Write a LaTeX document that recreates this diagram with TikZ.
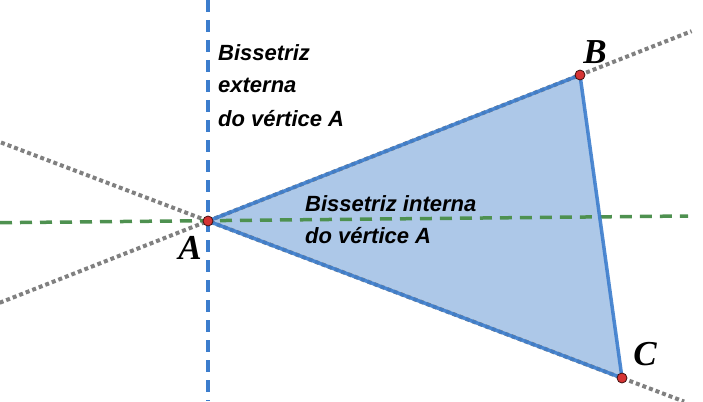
\documentclass[tikz,border=0pt]{standalone}
\usepackage{fontspec}
\setmainfont{Liberation Serif}
\newfontfamily\notefont{Liberation Sans}
\usepackage{xcolor}
\usetikzlibrary{calc, positioning}
\definecolor{trifill}{RGB}{173,200,232}
\definecolor{triedge}{RGB}{60,125,205}
\definecolor{bisgreen}{RGB}{78,145,80}
\definecolor{extgray}{RGB}{128,128,128}
\definecolor{ptred}{RGB}{214,52,52}
\tikzset{
		vertex/.style={circle, fill=ptred, draw=black!70!ptred, line width=0.8pt, inner sep=0pt, minimum size=10pt},
		vname/.style={font=\fontsize{35}{35}\selectfont\bfseries\itshape, inner sep=0pt},
		note/.style={font=\notefont\fontsize{22}{33}\selectfont\bfseries\itshape, align=left, inner sep=0pt, anchor=base west},
		extline/.style={extgray, line width=4pt, dash pattern=on 4pt off 3pt},
		intbis/.style={bisgreen, line width=3.5pt, dash pattern=on 12pt off 8pt},
		extbis/.style={triedge, line width=3.5pt, dash pattern=on 12pt off 8pt},
		side/.style={triedge, line width=3.5pt, opacity=0.9}
	}

\begin{document}
\begin{tikzpicture}[x=1pt, y=-1pt]
		\useasboundingbox (0,0) rectangle (703,401);
		\coordinate (A) at (208,221);
		\coordinate (B) at (580,75);
		\coordinate (C) at (622,378);

		% triangle fill
		\fill[trifill] (A) -- (B) -- (C) -- cycle;

		% sides extended
		\coordinate (ab1) at ($(A)!-0.56!(B)$);
		\coordinate (ab2) at ($(A)!1.30!(B)$);
		\coordinate (ac1) at ($(A)!-0.50!(C)$);
		\coordinate (ac2) at ($(A)!1.15!(C)$);
		\draw[extline] (ab1) -- (ab2);
		\draw[extline] (ac1) -- (ac2);

		% bisectors
		\coordinate (g1) at (0,222.7);
		\coordinate (g2) at (688,216);
		\coordinate (e1) at (208,0);
		\coordinate (e2) at (208,401);
		\draw[intbis] (g1) -- (g2);
		\draw[extbis] (e1) -- (e2);

		\draw[side, line join=round] (A) -- (B) -- (C) -- cycle;

		\node[vertex] (pA) at (A) {};
		\node[vertex] (pB) at (B) {};
		\node[vertex] (pC) at (C) {};

		\node[vname] (lA) at (190,248) {A};
		\node[vname] (lB) at (595,52) {B};
		\node[vname] (lC) at (645,354) {C};

		\node[note] (ext) at (218,126) {Bissetriz\\externa\\do vértice A};
		\node[note] (int) at (305,243) {Bissetriz interna\\[-1pt]do vértice A};
	\end{tikzpicture}
\end{document}
